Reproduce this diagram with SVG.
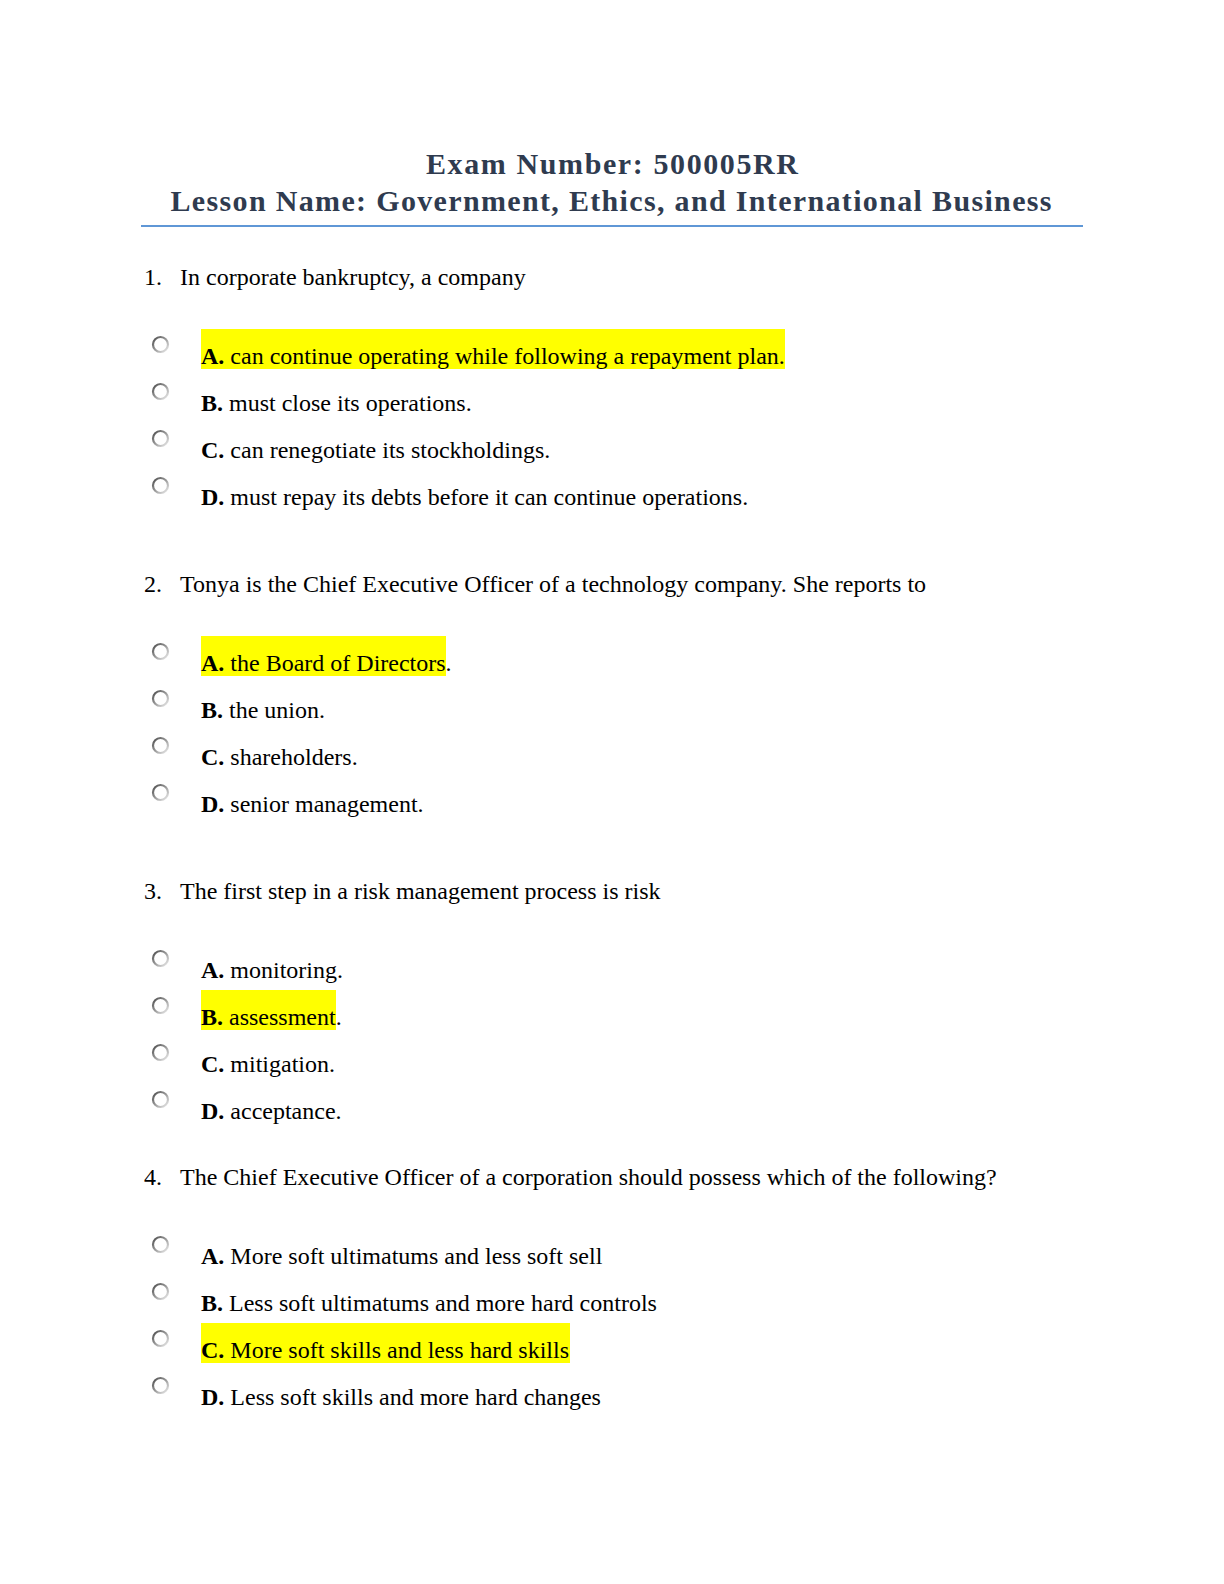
<svg xmlns="http://www.w3.org/2000/svg" width="1224" height="1584" viewBox="0 0 1224 1584">
<style>
.t{font-family:"Liberation Serif","Times New Roman",serif;font-size:24px;fill:#000}
.b{font-weight:bold}
.h{font-family:"Liberation Serif","Times New Roman",serif;font-size:30px;font-weight:bold;fill:#2f3b4f;text-anchor:middle}
.hl{fill:#ffff00}
.rb{fill:#fff;stroke:url(#rg);stroke-width:2.2}
</style>
<defs>
<linearGradient id="rg" x1="0" y1="0" x2="1" y2="1">
<stop offset="0" stop-color="#4a4a4a"/>
<stop offset="0.5" stop-color="#9a9a9a"/>
<stop offset="1" stop-color="#eeeeee"/>
</linearGradient>
<circle id="radio" r="7.5" class="rb"/>
</defs>
<rect width="1224" height="1584" fill="#fff"/>
<g id="header">
<text class="h" x="612" y="174" textLength="372" lengthAdjust="spacing">Exam Number: 500005RR</text>
<text class="h" x="611" y="211" textLength="881" lengthAdjust="spacing">Lesson Name: Government, Ethics, and International Business</text>
<line x1="141" y1="226" x2="1083" y2="226" stroke="#5f97d6" stroke-width="2"/>
</g>
<g id="q1">
<text class="t" x="144" y="285">1.</text>
<text class="t" x="180" y="285">In corporate bankruptcy, a company</text>
<rect class="hl" x="201" y="329" width="584" height="40"/>
<use href="#radio" x="160.5" y="344.5"/>
<use href="#radio" x="160.5" y="391.5"/>
<use href="#radio" x="160.5" y="438.5"/>
<use href="#radio" x="160.5" y="485.5"/>
<text class="t" x="201" y="364"><tspan class="b">A.</tspan> can continue operating while following a repayment plan.</text>
<text class="t" x="201" y="411"><tspan class="b">B.</tspan> must close its operations.</text>
<text class="t" x="201" y="458"><tspan class="b">C.</tspan> can renegotiate its stockholdings.</text>
<text class="t" x="201" y="505"><tspan class="b">D.</tspan> must repay its debts before it can continue operations.</text>
</g>
<g id="q2">
<text class="t" x="144" y="592">2.</text>
<text class="t" x="180" y="592">Tonya is the Chief Executive Officer of a technology company. She reports to</text>
<rect class="hl" x="201" y="636" width="245" height="40"/>
<use href="#radio" x="160.5" y="651.5"/>
<use href="#radio" x="160.5" y="698.5"/>
<use href="#radio" x="160.5" y="745.5"/>
<use href="#radio" x="160.5" y="792.5"/>
<text class="t" x="201" y="671"><tspan class="b">A.</tspan> the Board of Directors.</text>
<text class="t" x="201" y="718"><tspan class="b">B.</tspan> the union.</text>
<text class="t" x="201" y="765"><tspan class="b">C.</tspan> shareholders.</text>
<text class="t" x="201" y="812"><tspan class="b">D.</tspan> senior management.</text>
</g>
<g id="q3">
<text class="t" x="144" y="899">3.</text>
<text class="t" x="180" y="899">The first step in a risk management process is risk</text>
<rect class="hl" x="201" y="990" width="135" height="40"/>
<use href="#radio" x="160.5" y="958.5"/>
<use href="#radio" x="160.5" y="1005.5"/>
<use href="#radio" x="160.5" y="1052.5"/>
<use href="#radio" x="160.5" y="1099.5"/>
<text class="t" x="201" y="978"><tspan class="b">A.</tspan> monitoring.</text>
<text class="t" x="201" y="1025"><tspan class="b">B.</tspan> assessment.</text>
<text class="t" x="201" y="1072"><tspan class="b">C.</tspan> mitigation.</text>
<text class="t" x="201" y="1119"><tspan class="b">D.</tspan> acceptance.</text>
</g>
<g id="q4">
<text class="t" x="144" y="1185">4.</text>
<text class="t" x="180" y="1185">The Chief Executive Officer of a corporation should possess which of the following?</text>
<rect class="hl" x="201" y="1323" width="369" height="40"/>
<use href="#radio" x="160.5" y="1244.5"/>
<use href="#radio" x="160.5" y="1291.5"/>
<use href="#radio" x="160.5" y="1338.5"/>
<use href="#radio" x="160.5" y="1385.5"/>
<text class="t" x="201" y="1264"><tspan class="b">A.</tspan> More soft ultimatums and less soft sell</text>
<text class="t" x="201" y="1311"><tspan class="b">B.</tspan> Less soft ultimatums and more hard controls</text>
<text class="t" x="201" y="1358"><tspan class="b">C.</tspan> More soft skills and less hard skills</text>
<text class="t" x="201" y="1405"><tspan class="b">D.</tspan> Less soft skills and more hard changes</text>
</g>
</svg>
